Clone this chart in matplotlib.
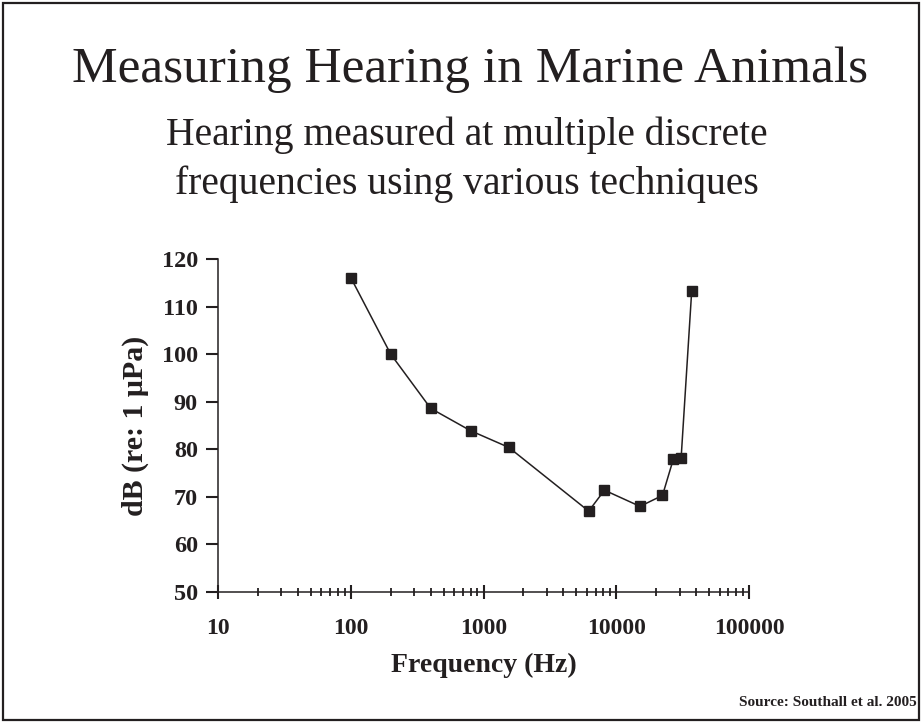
import matplotlib
matplotlib.use("Agg")
import matplotlib.pyplot as plt
from matplotlib.patches import Rectangle
from matplotlib.ticker import LogLocator, NullFormatter, FixedLocator

# audiogram values
freq_hz = [100, 200, 400, 800, 1550, 6200, 8150, 15100, 22300, 26900, 30800, 37000]
threshold_db = [116.1, 100.0, 88.6, 83.9, 80.4, 67.0, 71.4, 68.0, 70.3, 77.9, 78.1, 113.2]
x_ticks = [10, 100, 1000, 10000, 100000]
x_tick_labels = ["10", "100", "1000", "10000", "100000"]
y_ticks = [50, 60, 70, 80, 90, 100, 110, 120]

INK = "#231f20"
SERIF = ["Liberation Serif", "DejaVu Serif"]

plt.rcParams['font.family'] = SERIF

fig = plt.figure(figsize=(9.22, 7.23), dpi=100)

# slide frame
fig.patches.append(Rectangle((3 / 922, 3 / 723), 916 / 922, 717 / 723,
                             transform=fig.transFigure, fill=False,
                             edgecolor=INK, linewidth=1.6))

fig.text(470 / 922, 1 - 82 / 723, "Measuring Hearing in Marine Animals",
         ha="center", va="baseline", fontsize=37, color=INK)
fig.text(467 / 922, 1 - 145 / 723, "Hearing measured at multiple discrete",
         ha="center", va="baseline", fontsize=28.5, color=INK)
fig.text(467 / 922, 1 - 194 / 723, "frequencies using various techniques",
         ha="center", va="baseline", fontsize=28.5, color=INK)

ax = fig.add_axes([218 / 922, 1 - 592 / 723, 531 / 922, 333 / 723])
ax.plot(freq_hz, threshold_db, color=INK, linewidth=1.1,
        marker="s", markersize=6.5, markerfacecolor=INK, markeredgecolor=INK)

ax.set_xscale("log")
ax.set_xlim(10, 100000)
ax.set_ylim(50, 120)

ax.xaxis.set_major_locator(FixedLocator(x_ticks))
ax.set_xticklabels(x_tick_labels)
ax.xaxis.set_minor_locator(LogLocator(base=10, subs=range(2, 10)))
ax.xaxis.set_minor_formatter(NullFormatter())
ax.set_yticks(y_ticks)
ax.set_yticklabels([str(v) for v in y_ticks])

for side in ("top", "right"):
    ax.spines[side].set_visible(False)
for side in ("left", "bottom"):
    ax.spines[side].set_color(INK)
    ax.spines[side].set_linewidth(1.1)

ax.tick_params(axis="x", which="major", direction="inout", length=10,
               width=1.5, color=INK, pad=14, labelsize=17, labelcolor=INK)
ax.tick_params(axis="x", which="minor", direction="inout", length=6,
               width=1.3, color=INK)
ax.tick_params(axis="y", which="major", direction="out", length=8.5,
               width=1.5, color=INK, pad=6, labelsize=17.5, labelcolor=INK)
for lab in ax.get_xticklabels() + ax.get_yticklabels():
    lab.set_fontweight("bold")

ax.set_xlabel("Frequency (Hz)", fontsize=20, fontweight="bold", color=INK, labelpad=10)
ax.set_ylabel("dB (re: 1 \u03bcPa)", fontsize=21.5, fontweight="bold", color=INK, labelpad=9)

fig.text(917 / 922, 1 - 703 / 723, "Source: Southall et al. 2005",
         ha="right", va="center", fontsize=11, fontweight="bold", color=INK)

fig.savefig("out.png", dpi=100)
